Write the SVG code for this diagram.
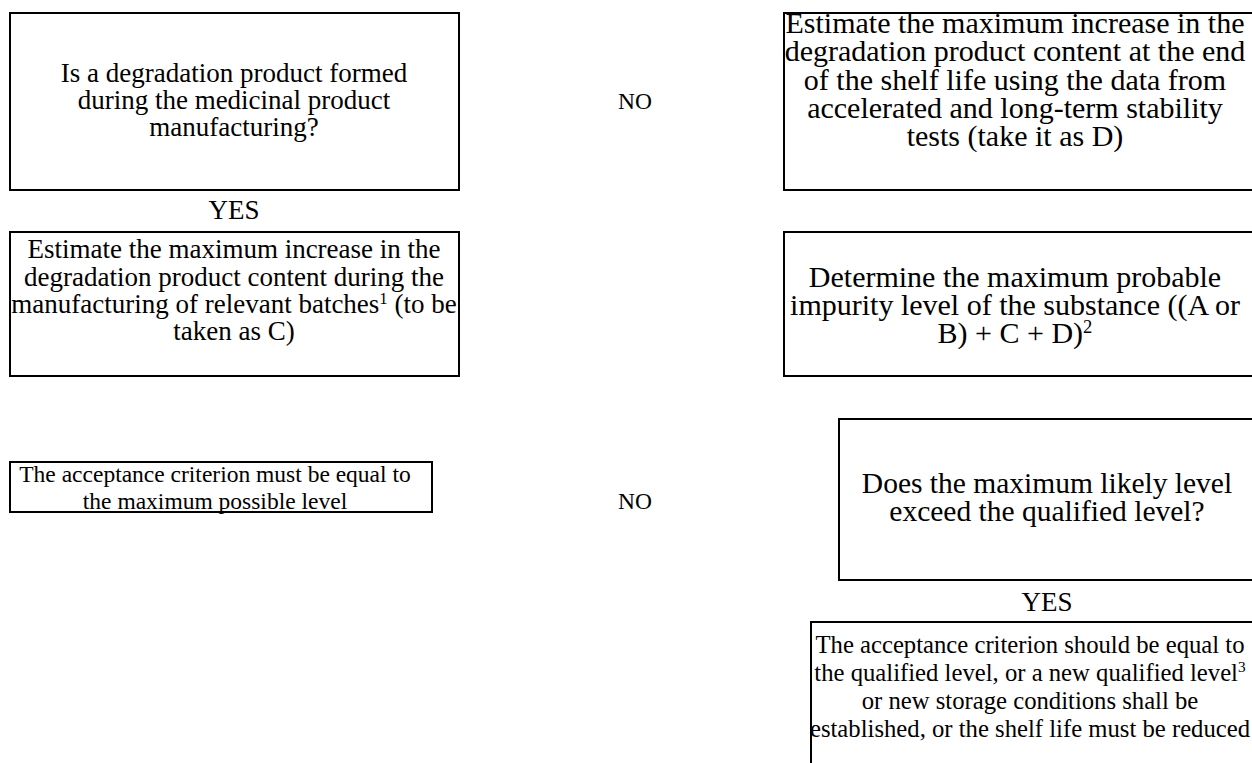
<svg xmlns="http://www.w3.org/2000/svg" width="1252" height="763" viewBox="0 0 1252 763">
  <style>
    .box { fill: #ffffff; stroke: #000000; stroke-width: 2; }
    .t { font-family: "Liberation Serif", "Times New Roman", serif; fill: #000000; text-anchor: middle; }
    .s27 { font-size: 27px; }
    .s30 { font-size: 30px; }
    .s29 { font-size: 29.5px; }
    .s25 { font-size: 24.7px; }
    .s23 { font-size: 23.5px; }
    .sup { font-size: 0.62em; }
  </style>
  <rect x="0" y="0" width="1252" height="763" fill="#ffffff"/>

  <!-- Decision: is a degradation product formed during manufacturing -->
  <g id="q-degradation" class="t s27">
    <rect class="box" x="10" y="13" width="449" height="177"/>
    <text x="234" y="82">Is a degradation product formed</text>
    <text x="234" y="109">during the medicinal product</text>
    <text x="234" y="136">manufacturing?</text>
  </g>

  <!-- Estimate D from stability data -->
  <g id="estimate-d" class="t s30">
    <rect class="box" x="784" y="13" width="480" height="177"/>
    <text x="1015" y="33">Estimate the maximum increase in the</text>
    <text x="1015" y="61">degradation product content at the end</text>
    <text x="1015" y="90">of the shelf life using the data from</text>
    <text x="1015" y="118">accelerated and long-term stability</text>
    <text x="1015" y="146">tests (take it as D)</text>
  </g>

  <!-- Estimate C from manufacturing batches -->
  <g id="estimate-c" class="t s27">
    <rect class="box" x="10" y="232" width="449" height="144"/>
    <text x="234" y="258">Estimate the maximum increase in the</text>
    <text x="234" y="286">degradation product content during the</text>
    <text x="234" y="313">manufacturing of relevant batches<tspan class="sup" dy="-9">1</tspan><tspan dy="9"> (to be</tspan></text>
    <text x="234" y="340">taken as C)</text>
  </g>

  <!-- Maximum probable impurity level -->
  <g id="max-level" class="t s30">
    <rect class="box" x="784" y="232" width="480" height="144"/>
    <text x="1015" y="287">Determine the maximum probable</text>
    <text x="1015" y="315">impurity level of the substance ((A or</text>
    <text x="1015" y="343">B) + C + D)<tspan class="sup" dy="-10">2</tspan></text>
  </g>

  <!-- Acceptance criterion equals maximum possible level -->
  <g id="accept-max" class="t s23">
    <rect class="box" x="10" y="462" width="422" height="50"/>
    <text x="215" y="482">The acceptance criterion must be equal to</text>
    <text x="215" y="509">the maximum possible level</text>
  </g>

  <!-- Decision: does the likely level exceed the qualified level -->
  <g id="q-exceed" class="t s29">
    <rect class="box" x="839" y="419" width="425" height="161"/>
    <text x="1047" y="493">Does the maximum likely level</text>
    <text x="1047" y="521">exceed the qualified level?</text>
  </g>

  <!-- Acceptance criterion equals qualified level -->
  <g id="accept-qualified" class="t s25">
    <rect class="box" x="811" y="622" width="455" height="160"/>
    <text x="1030" y="653">The acceptance criterion should be equal to</text>
    <text x="1030" y="681">the qualified level, or a new qualified level<tspan class="sup" dy="-9">3</tspan></text>
    <text x="1030" y="709">or new storage conditions shall be</text>
    <text x="1030" y="737">established, or the shelf life must be reduced</text>
  </g>

  <!-- Branch labels -->
  <g id="connectors" class="t">
    <text class="s23" x="635" y="109">NO</text>
    <text class="s27" x="234" y="219">YES</text>
    <text class="s23" x="635" y="509">NO</text>
    <text class="s27" x="1047" y="611">YES</text>
  </g>
</svg>
